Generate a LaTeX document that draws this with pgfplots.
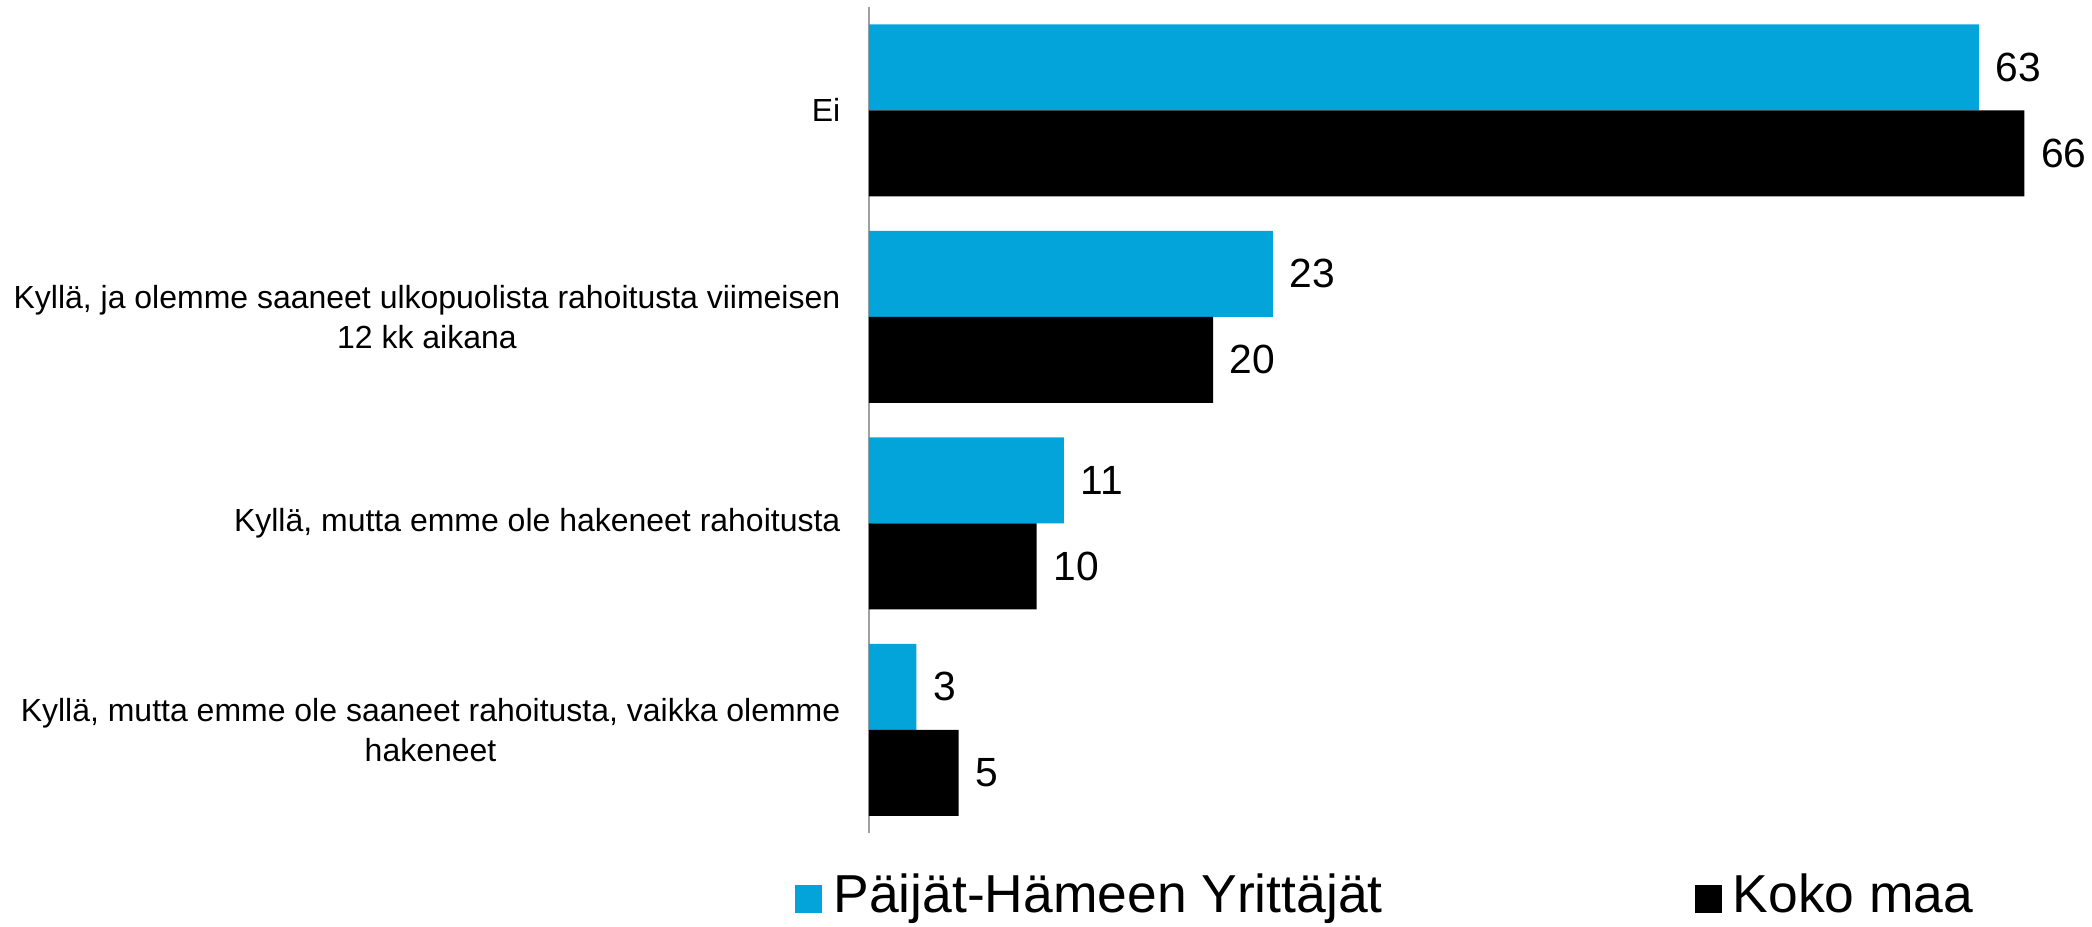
\documentclass[border=0pt]{standalone}
\usepackage{fontspec}
\setmainfont{Liberation Sans}
\usepackage{pgfplots}
\pgfplotsset{compat=1.18}
\definecolor{cblue}{RGB}{3,164,218}
\definecolor{axgray}{RGB}{160,160,160}
\begin{document}
\begin{tikzpicture}
\path[use as bounding box] (0,0) rectangle (209.2mm,92.6mm);
\begin{axis}[
  at={(86.9mm,9.3mm)}, anchor=south west,
  scale only axis, width=122.92mm, height=82.6mm,
  xbar, bar width=8.6mm,
  xmin=0, xmax=70, ymin=-0.5, ymax=3.5,
  axis x line=none,
  axis y line*=left,
  y axis line style={draw=axgray, line width=0.55pt, -},
  ytick={0,1,2,3},
  yticklabels={{Kyllä, mutta emme ole saaneet rahoitusta, vaikka olemme\\hakeneet},{Kyllä, mutta emme ole hakeneet rahoitusta},{Kyllä, ja olemme saaneet ulkopuolista rahoitusta viimeisen\\12 kk aikana},{Ei}},
  major tick length=0pt,
  yticklabel style={align=center, anchor=east, inner sep=0pt, xshift=-2.8mm, font=\fontsize{9.1}{11.4}\selectfont},
  /pgf/number format/fixed,
  /pgf/number format/precision=0,
  /pgf/number format/assume math mode=true,
  nodes near coords,
  nodes near coords align={horizontal},
  every node near coord/.append style={font=\fontsize{11.6}{14}\selectfont, anchor=west, inner sep=0pt, xshift=1.6mm, text=black},
  legend columns=2,
  legend style={draw=none, fill=none, inner sep=0pt, font=\fontsize{15.2}{17}\selectfont,
    at={(axis description cs:-0.0604,-0.0763)}, anchor=west,
    /tikz/every even column/.append style={column sep=30.5mm}},
  legend image code/.code={\fill[#1] (0mm,-1.7mm) rectangle (2.7mm,1.1mm); \path (3.1mm,0mm);},
]
\addplot[fill=cblue, draw=none, bar shift=4.3mm] coordinates {(63.2,3) (23.0,2) (11.1,1) (2.7,0)};
\addplot[fill=black, draw=none, bar shift=-4.3mm] coordinates {(65.8,3) (19.6,2) (9.55,1) (5.1,0)};
\legend{Päijät-Hämeen Yrittäjät, Koko maa}
\end{axis}
\end{tikzpicture}
\end{document}
